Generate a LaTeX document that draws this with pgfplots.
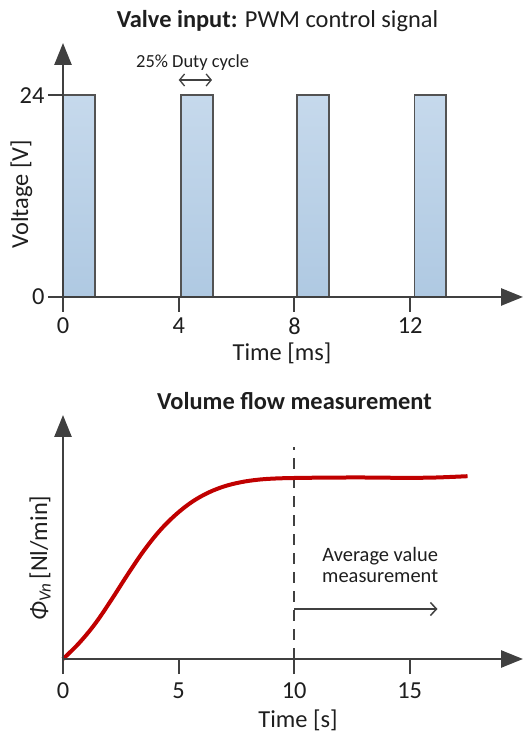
\documentclass[border=0pt]{standalone}
\usepackage{pgfplots}
\pgfplotsset{compat=1.18}
\usetikzlibrary{arrows.meta}
\usepackage{fontspec}
\setmainfont{Carlito}
\definecolor{axgray}{HTML}{404040}
\definecolor{txt}{HTML}{1E1E1E}
\definecolor{bartop}{HTML}{C6D9EC}
\definecolor{barbot}{HTML}{AFC9E2}
\definecolor{curvered}{HTML}{C00000}
\begin{document}
\begin{tikzpicture}[x=1bp,y=1bp]
\useasboundingbox (0,0) rectangle (528,733);
\pgfplotsset{myax/.style={
  scale only axis, axis lines=left, axis on top,
  axis line style={axgray, line width=2.6bp},
  x axis line style={-{Triangle[length=22bp,width=17bp]}},
  y axis line style={-{Triangle[length=22bp,width=17bp]}},
  tick align=outside, major tick length=15bp,
  tick style={axgray, line width=2bp},
  tick label style={font=\fontsize{24.5}{28}\selectfont, text=txt},
  /pgf/number format/assume math mode=true,
  clip=false}}
% ---------- top: PWM signal ----------
\begin{axis}[myax, at={(63bp,436bp)}, anchor=south west,
  width=460bp, height=254bp,
  xmin=0, xmax=15.9, ymin=0, ymax=30.2,
  xtick={0,4,8,12}, ytick={0,24},
  xticklabel style={yshift=-2bp}]
\addplot[ybar, bar width=1.1, bar shift=0, draw=axgray!90, line width=1.8bp,
  top color=bartop, bottom color=barbot]
  coordinates {(0.55,24) (4.63,24) (8.65,24) (12.7,24)};
\draw[{Straight Barb[length=5bp,width=12bp]}-{Straight Barb[length=5bp,width=12bp]}, axgray, line width=1.3bp]
  (axis cs:4.0,25.8) -- (axis cs:5.15,25.8);
\node[anchor=base, font=\fontsize{18.5}{22}\selectfont, text=txt] at (axis cs:4.48,27.3) {25\% Duty cycle};
\end{axis}
% ---------- bottom: volume flow ----------
\begin{axis}[myax, at={(63bp,74bp)}, anchor=south west,
  width=460bp, height=244bp,
  xmin=0, xmax=19.9, ymin=0, ymax=244,
  xtick={0,5,10,15}, ytick=\empty,
  xticklabel style={yshift=-5bp}]
\addplot[axgray, line width=1.6bp, dash pattern=on 11bp off 8bp]
  coordinates {(10,0) (10,212)};
\addplot[curvered, line width=4bp, smooth, tension=0.6]
  coordinates {(0,0) (0.7,16) (1.4,35.6) (2.1,59.4) (2.8,84.6) (3.5,108.4) (4.2,128.7) (4.9,144.8) (5.6,157.4) (6.3,166.5) (7.0,172.8) (7.7,176.8) (8.4,179.2) (9.1,180.4) (10,181) (11.5,181.4) (13,181.5) (14.5,181.2) (16,181.4) (17.5,182.8)};
\draw[-{Straight Barb[length=6bp,width=13bp]}, axgray, line width=1.5bp]
  (axis cs:10,50) -- (axis cs:16.2,50);
\node[anchor=base, font=\fontsize{20.5}{24}\selectfont, text=txt] at (axis cs:13.72,97) {Average value};
\node[anchor=base, font=\fontsize{20.5}{24}\selectfont, text=txt] at (axis cs:13.72,76) {measurement};
\end{axis}
% ---------- titles and labels ----------
\node[anchor=base, font=\fontsize{24.5}{28}\selectfont, text=txt] at (277.5,705) {\textbf{Valve input:} PWM control signal};
\node[anchor=base, font=\fontsize{24.5}{28}\selectfont, text=txt] at (294.5,323) {\textbf{Volume flow measurement}};
\node[anchor=base, font=\fontsize{24.5}{28}\selectfont, text=txt] at (282,372) {Time [ms]};
\node[anchor=base, font=\fontsize{24.5}{28}\selectfont, text=txt] at (298,5) {Time [s]};
\node[anchor=base, rotate=90, font=\fontsize{24.5}{28}\selectfont, text=txt] at (28,539) {Voltage [V]};
\node[anchor=base, rotate=90, font=\fontsize{24.5}{28}\selectfont, text=txt] at (47,175) {\textit{Φ}\textsubscript{\textit{Vn}}\,[Nl/min]};
\end{tikzpicture}
\end{document}
